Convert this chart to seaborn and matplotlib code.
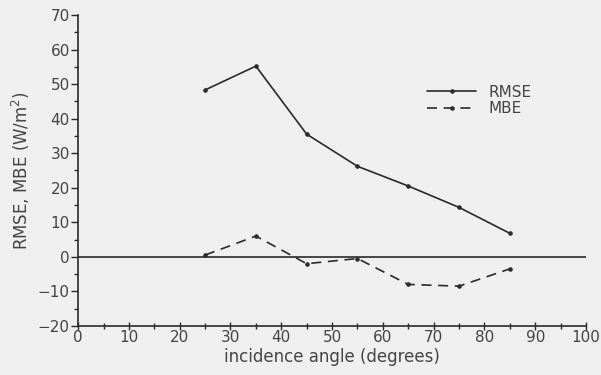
import matplotlib
matplotlib.use("Agg")
import matplotlib.pyplot as plt
import seaborn as sns
import pandas as pd
from matplotlib.ticker import MultipleLocator

angles = [25, 35, 45, 55, 65, 75, 85]
rmse = [48.3, 55.2, 35.5, 26.2, 20.5, 14.3, 6.8]
mbe = [0.5, 6.0, -2.0, -0.5, -8.0, -8.5, -3.5]

sns.set_style("ticks")
plt.rcParams['font.family'] = ['DejaVu Sans']
bg = "#efefef"
ink = "#2a2a2a"
txt = "#444444"
fig = plt.figure(figsize=(6.01, 3.75), dpi=100, facecolor=bg)
ax = fig.add_axes([0.13, 0.131, 0.845, 0.829], facecolor=bg)

df = pd.DataFrame({"angle": angles, "RMSE": rmse, "MBE": mbe})
sns.lineplot(data=df, x="angle", y="RMSE", ax=ax, color=ink, lw=1.2,
             marker="o", markersize=2.5, markeredgecolor=ink, label="RMSE")
sns.lineplot(data=df, x="angle", y="MBE", ax=ax, color=ink, lw=1.2,
             linestyle=(0, (6, 4)), marker="o", markersize=2.5,
             markeredgecolor=ink, label="MBE")
ax.axhline(0, color=ink, lw=1.2)

ax.set_xlim(0, 100)
ax.set_ylim(-20, 70)
ax.xaxis.set_major_locator(MultipleLocator(10))
ax.xaxis.set_minor_locator(MultipleLocator(5))
ax.yaxis.set_major_locator(MultipleLocator(10))
ax.yaxis.set_minor_locator(MultipleLocator(5))
for s in ["top", "right"]:
    ax.spines[s].set_visible(False)
for s in ["left", "bottom"]:
    ax.spines[s].set_color(ink)
    ax.spines[s].set_linewidth(1.2)
ax.tick_params(axis="y", which="major", length=5, width=1, color=ink,
               labelsize=11, labelcolor=txt, pad=1)
ax.tick_params(axis="y", which="minor", length=3, width=1, color=ink)
ax.tick_params(axis="x", which="major", direction="inout", length=6, width=1,
               color=ink, labelsize=11, labelcolor=txt, pad=0)
ax.tick_params(axis="x", which="minor", direction="inout", length=4, width=1,
               color=ink)
ax.set_xlabel("incidence angle (degrees)", fontsize=12, color=txt, labelpad=2)
ax.set_ylabel("RMSE, MBE (W/m$^2$)", fontsize=12, color=txt, labelpad=4)

leg = ax.legend(loc="upper left", bbox_to_anchor=(0.66, 0.82), frameon=False,
                fontsize=11, handlelength=3.2, labelspacing=0.1, handletextpad=0.8)
for t in leg.get_texts():
    t.set_color(txt)

fig.savefig("out.png", dpi=100, facecolor=bg)
